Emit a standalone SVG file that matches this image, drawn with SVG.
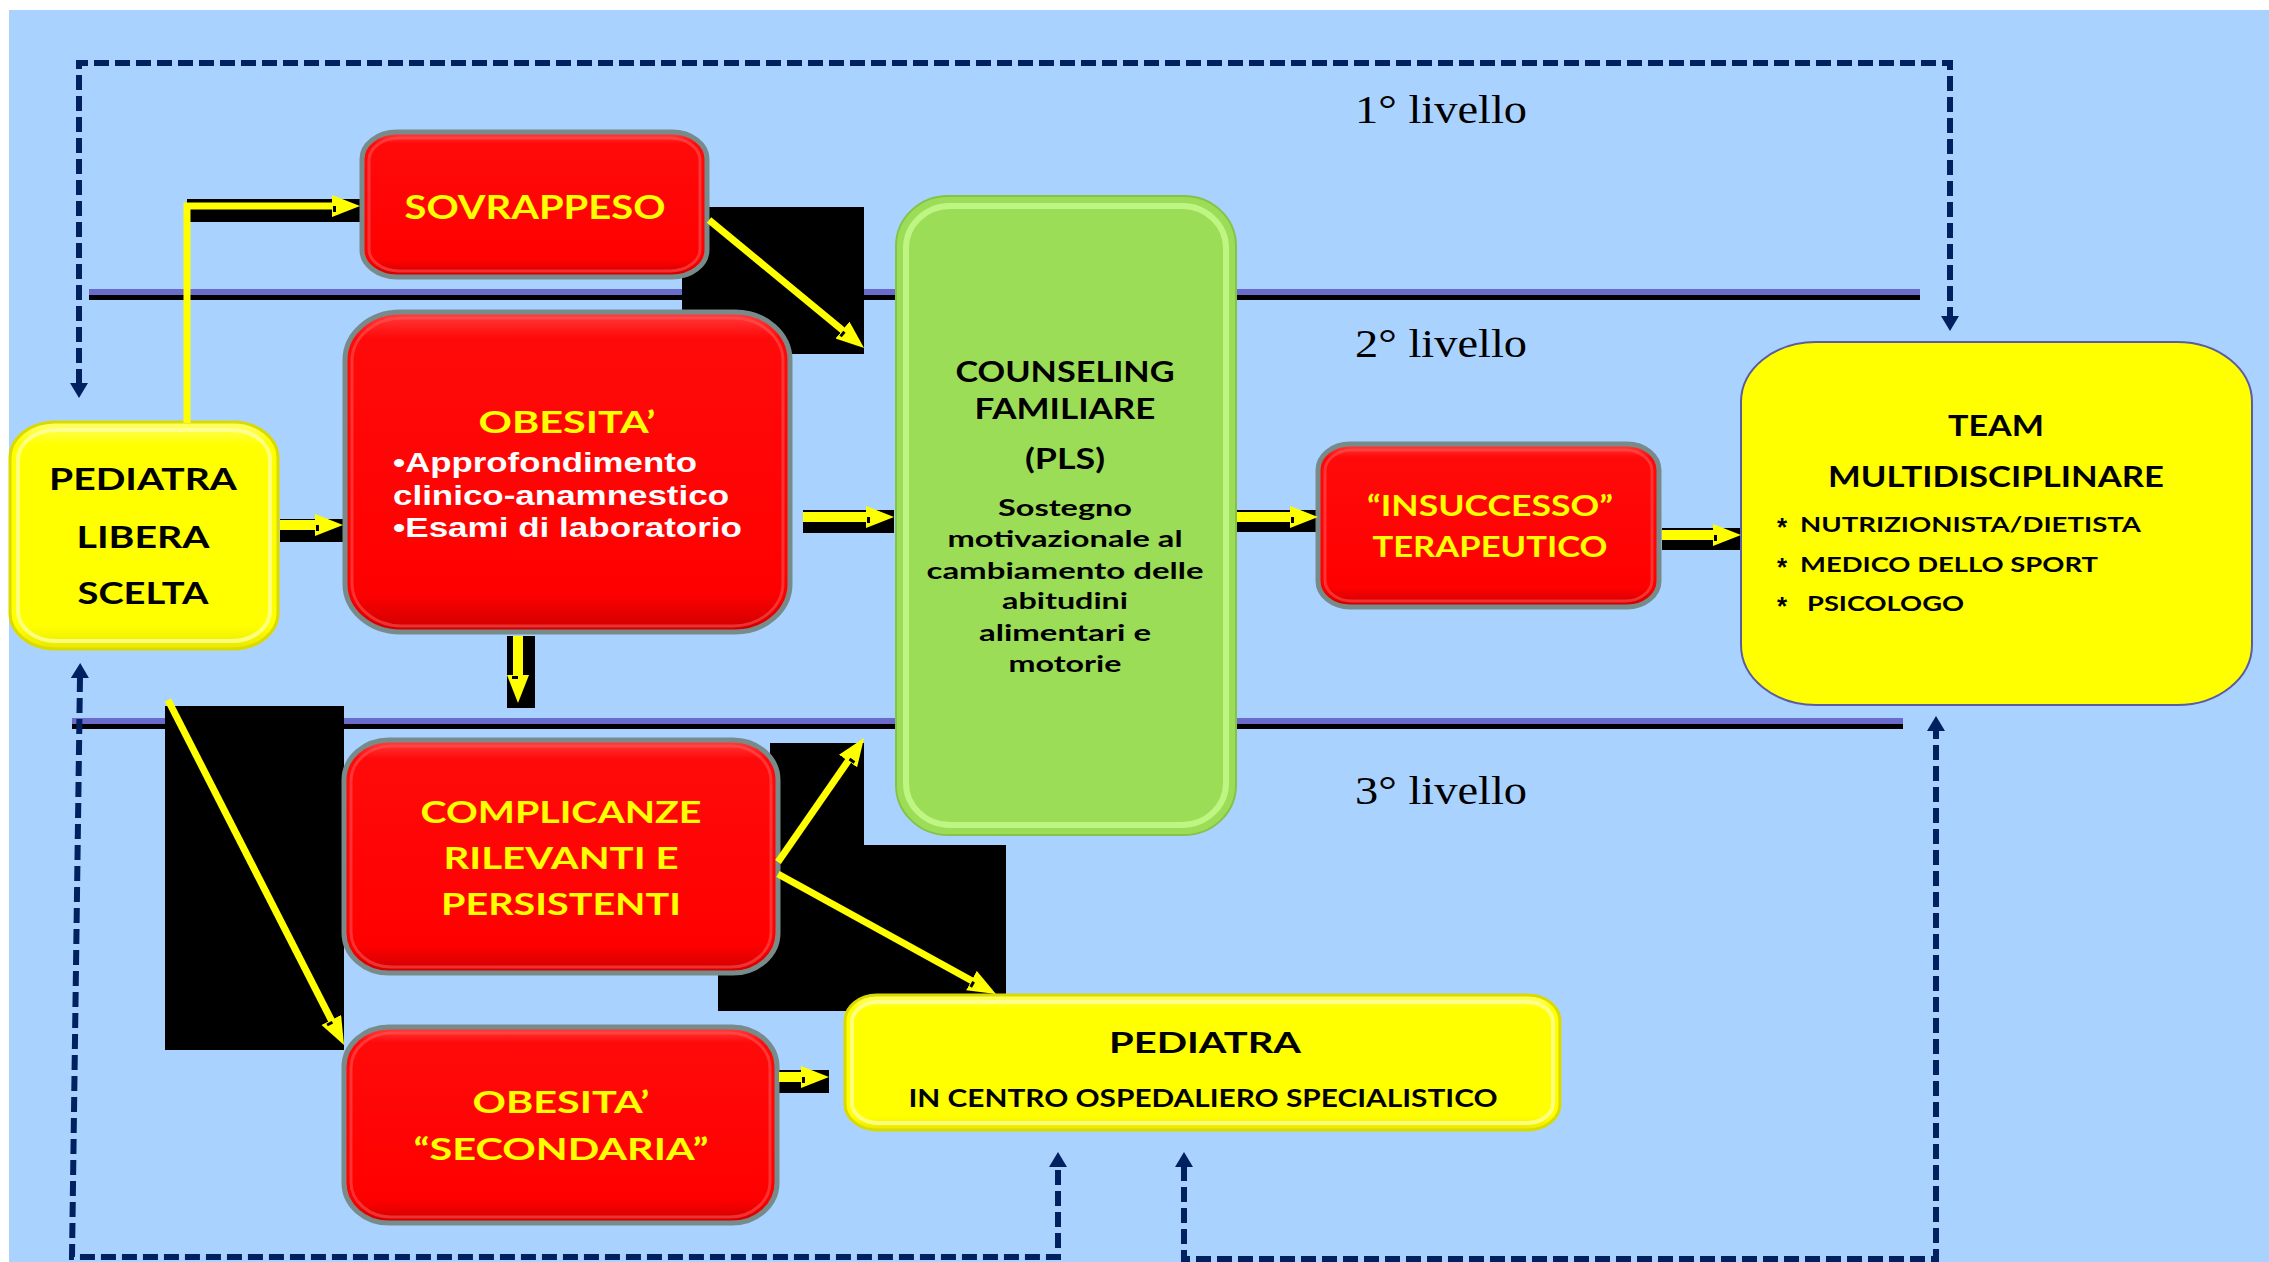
<svg xmlns="http://www.w3.org/2000/svg" width="2269" height="1262" viewBox="0 0 2269 1262">
<style>
.b{font-family:Lato,"Open Sans","DejaVu Sans",sans-serif;font-weight:700;text-anchor:middle}
.bl{font-family:Lato,"Open Sans","DejaVu Sans",sans-serif;font-weight:700}
.ast{font-family:"Liberation Sans",Arial,sans-serif;font-weight:700;font-size:26px;fill:#000}
.k{fill:#000}
.y{fill:#FFFF00}
.w{font-family:"Liberation Sans",Arial,sans-serif;font-weight:700;fill:#fff;font-size:28px}
.lv{font-family:"Liberation Serif","Times New Roman",serif;font-size:39px;fill:#000}
.red{fill:url(#rg);stroke:#788B8B;stroke-width:5}
.redhl{fill:none;stroke:#FF5A5A;stroke-width:3;opacity:.55}
.yel{fill:url(#yg);stroke:#DADA00;stroke-width:3}
.yelhl{fill:none;stroke:#FFFFA8;stroke-width:4;opacity:.75}
.grn{fill:#9CDD57;stroke:#86C24A;stroke-width:2}
.grnhl{fill:none;stroke:#CFFF96;stroke-width:6;opacity:.7}
.team{fill:#FFFF00;stroke:#5C5CA0;stroke-width:2}
.sh{fill:#000}
.ya{stroke:#FFFF00;fill:none;marker-end:url(#yah)}
.dash{fill:none;stroke:#002060;stroke-width:6;stroke-dasharray:15 6;marker-start:url(#nah);marker-end:url(#nah)}
</style>
<defs>
<linearGradient id="rg" x1="0" y1="0" x2="0" y2="1">
<stop offset="0" stop-color="#FF4040"/>
<stop offset="0.08" stop-color="#FF0A0A"/>
<stop offset="0.88" stop-color="#FF0000"/>
<stop offset="1" stop-color="#CC0000"/>
</linearGradient>
<linearGradient id="yg" x1="0" y1="0" x2="0" y2="1">
<stop offset="0" stop-color="#FFFF70"/>
<stop offset="0.1" stop-color="#FFFF00"/>
<stop offset="0.9" stop-color="#FFFF00"/>
<stop offset="1" stop-color="#E8E800"/>
</linearGradient>
<marker id="yah" markerUnits="userSpaceOnUse" markerWidth="32" markerHeight="24" refX="2" refY="11" orient="auto">
<path d="M0,0 L28,11 L0,22 Z" fill="#FFFF00"/>
<rect x="1" y="11" width="3" height="6" fill="#000"/>
</marker>
<marker id="nah" markerUnits="userSpaceOnUse" markerWidth="18" markerHeight="20" refX="1" refY="9" orient="auto-start-reverse">
<path d="M0,0 L15,9 L0,18 Z" fill="#002060"/>
</marker>
</defs>

<rect x="0" y="0" width="2269" height="1262" fill="#FFFFFF"/>
<rect x="9" y="10" width="2260" height="1252" fill="#A9D3FE"/>

<g id="levels">
<rect x="89" y="289" width="1831" height="6" fill="#6B6BCC"/>
<rect x="89" y="295" width="1831" height="5" fill="#000"/>
<rect x="72" y="718" width="1831" height="6" fill="#6B6BCC"/>
<rect x="72" y="724" width="1831" height="5" fill="#000"/>
<text class="lv" x="1355" y="123" textLength="172" lengthAdjust="spacingAndGlyphs">1° livello</text>
<text class="lv" x="1355" y="357" textLength="172" lengthAdjust="spacingAndGlyphs">2° livello</text>
<text class="lv" x="1355" y="804" textLength="172" lengthAdjust="spacingAndGlyphs">3° livello</text>
</g>

<g id="connector-shadows">
<rect class="sh" x="187" y="199" width="173" height="23"/>
<rect class="sh" x="682" y="207" width="182" height="147"/>
<rect class="sh" x="280" y="519" width="63" height="23"/>
<rect class="sh" x="803" y="510" width="91" height="23"/>
<rect class="sh" x="507" y="636" width="28" height="72"/>
<rect class="sh" x="1237" y="510" width="81" height="22"/>
<rect class="sh" x="1662" y="528" width="79" height="22"/>
<rect class="sh" x="165" y="706" width="179" height="344"/>
<rect class="sh" x="770" y="743" width="94" height="102"/>
<rect class="sh" x="718" y="845" width="288" height="166"/>
<rect class="sh" x="779" y="1070" width="50" height="23"/>
</g>

<g id="dashed-connectors">
<path class="dash" d="M79,384 L79,63 L1950,63 L1950,317"/>
<path class="dash" d="M80,677 L72,1257 L1058,1257 L1058,1166"/>
<path class="dash" d="M1184,1166 L1184,1259 L1936,1259 L1936,730"/>
</g>

<g id="node-pediatra-libera">
<rect class="yel" x="10" y="422" width="268" height="227" rx="45" ry="36"/>
<rect class="yelhl" x="18" y="430" width="252" height="211" rx="38" ry="30"/>
<text class="b k" font-size="31" x="143" y="490" textLength="188" lengthAdjust="spacingAndGlyphs">PEDIATRA</text>
<text class="b k" font-size="31" x="143" y="548" textLength="133" lengthAdjust="spacingAndGlyphs">LIBERA</text>
<text class="b k" font-size="31" x="143" y="604" textLength="131" lengthAdjust="spacingAndGlyphs">SCELTA</text>
</g>

<g id="node-sovrappeso">
<rect class="red" x="362" y="132" width="345" height="145" rx="35" ry="27"/>
<rect class="redhl" x="369" y="138" width="331" height="133" rx="30" ry="22"/>
<text class="b y" font-size="32" x="535" y="219" textLength="261" lengthAdjust="spacingAndGlyphs">SOVRAPPESO</text>
</g>

<g id="node-obesita">
<rect class="red" x="345" y="312" width="445" height="320" rx="55" ry="48"/>
<rect class="redhl" x="352" y="318" width="431" height="308" rx="50" ry="43"/>
<text class="b y" font-size="30" x="567" y="433" textLength="177" lengthAdjust="spacingAndGlyphs">OBESITA’</text>
<text class="w" x="393" y="472" textLength="304" lengthAdjust="spacingAndGlyphs">•Approfondimento</text>
<text class="w" x="393" y="505" textLength="336" lengthAdjust="spacingAndGlyphs">clinico-anamnestico</text>
<text class="w" x="393" y="537" textLength="349" lengthAdjust="spacingAndGlyphs">•Esami di laboratorio</text>
</g>

<g id="node-counseling">
<rect class="grn" x="896" y="196" width="340" height="639" rx="52" ry="50"/>
<rect class="grnhl" x="906" y="206" width="320" height="619" rx="44" ry="42"/>
<text class="b k" font-size="28" x="1065" y="382" textLength="219" lengthAdjust="spacingAndGlyphs">COUNSELING</text>
<text class="b k" font-size="28" x="1065" y="419" textLength="181" lengthAdjust="spacingAndGlyphs">FAMILIARE</text>
<text class="b k" font-size="28" x="1065" y="469" textLength="80" lengthAdjust="spacingAndGlyphs">(PLS)</text>
<text class="b k" font-size="22" x="1065" y="516" textLength="134" lengthAdjust="spacingAndGlyphs">Sostegno</text>
<text class="b k" font-size="22" x="1065" y="547" textLength="235" lengthAdjust="spacingAndGlyphs">motivazionale al</text>
<text class="b k" font-size="22" x="1065" y="579" textLength="277" lengthAdjust="spacingAndGlyphs">cambiamento delle</text>
<text class="b k" font-size="22" x="1065" y="609" textLength="126" lengthAdjust="spacingAndGlyphs">abitudini</text>
<text class="b k" font-size="22" x="1065" y="641" textLength="172" lengthAdjust="spacingAndGlyphs">alimentari e</text>
<text class="b k" font-size="22" x="1065" y="672" textLength="113" lengthAdjust="spacingAndGlyphs">motorie</text>
</g>

<g id="node-insuccesso">
<rect class="red" x="1318" y="444" width="341" height="163" rx="32" ry="26"/>
<rect class="redhl" x="1325" y="450" width="327" height="151" rx="27" ry="21"/>
<text class="b y" font-size="28" x="1490" y="516" textLength="246" lengthAdjust="spacingAndGlyphs">“INSUCCESSO”</text>
<text class="b y" font-size="28" x="1490" y="557" textLength="235" lengthAdjust="spacingAndGlyphs">TERAPEUTICO</text>
</g>

<g id="node-team">
<rect class="team" x="1741" y="342" width="511" height="363" rx="75" ry="60"/>
<text class="b k" font-size="28" x="1996" y="436" textLength="96" lengthAdjust="spacingAndGlyphs">TEAM</text>
<text class="b k" font-size="28" x="1996" y="487" textLength="336" lengthAdjust="spacingAndGlyphs">MULTIDISCIPLINARE</text>
<text class="ast" x="1777" y="536">*</text>
<text class="bl k" font-size="21" x="1800" y="532" textLength="341" lengthAdjust="spacingAndGlyphs">NUTRIZIONISTA/DIETISTA</text>
<text class="ast" x="1777" y="576">*</text>
<text class="bl k" font-size="21" x="1800" y="572" textLength="298" lengthAdjust="spacingAndGlyphs">MEDICO DELLO SPORT</text>
<text class="ast" x="1777" y="615">*</text>
<text class="bl k" font-size="21" x="1807" y="611" textLength="157" lengthAdjust="spacingAndGlyphs">PSICOLOGO</text>
</g>

<g id="node-complicanze">
<rect class="red" x="344" y="740" width="434" height="233" rx="45" ry="40"/>
<rect class="redhl" x="351" y="746" width="420" height="221" rx="40" ry="35"/>
<text class="b y" font-size="31" x="561" y="823" textLength="281" lengthAdjust="spacingAndGlyphs">COMPLICANZE</text>
<text class="b y" font-size="31" x="561" y="869" textLength="235" lengthAdjust="spacingAndGlyphs">RILEVANTI E</text>
<text class="b y" font-size="31" x="561" y="915" textLength="240" lengthAdjust="spacingAndGlyphs">PERSISTENTI</text>
</g>

<g id="node-obesita-secondaria">
<rect class="red" x="344" y="1027" width="433" height="196" rx="45" ry="40"/>
<rect class="redhl" x="351" y="1033" width="419" height="184" rx="40" ry="35"/>
<text class="b y" font-size="30" x="561" y="1113" textLength="177" lengthAdjust="spacingAndGlyphs">OBESITA’</text>
<text class="b y" font-size="30" x="561" y="1160" textLength="295" lengthAdjust="spacingAndGlyphs">“SECONDARIA”</text>
</g>

<g id="node-pediatra-centro">
<rect class="yel" x="845" y="995" width="715" height="135" rx="32" ry="26"/>
<rect class="yelhl" x="852" y="1002" width="701" height="121" rx="26" ry="20"/>
<text class="b k" font-size="29" x="1205" y="1053" textLength="192" lengthAdjust="spacingAndGlyphs">PEDIATRA</text>
<text class="b k" font-size="24" x="1203" y="1107" textLength="589" lengthAdjust="spacingAndGlyphs">IN CENTRO OSPEDALIERO SPECIALISTICO</text>
</g>

<g id="connectors">
<path class="ya" stroke-width="7" d="M187,423 L187,206 L334,206"/>
<path class="ya" stroke-width="7" d="M709,220 L844,331.4"/>
<path class="ya" stroke-width="10" d="M280,525 L317,525"/>
<path class="ya" stroke-width="10" d="M803,517 L868,517"/>
<path class="ya" stroke-width="10" d="M518,636 L518,677"/>
<path class="ya" stroke-width="10" d="M1237,517 L1292,517"/>
<path class="ya" stroke-width="10" d="M1662,535 L1715,535"/>
<path class="ya" stroke-width="7" d="M168,700 L332.2,1021.8"/>
<path class="ya" stroke-width="7" d="M778,862 L849.2,759.4"/>
<path class="ya" stroke-width="7" d="M778,874 L973.2,981.5"/>
<path class="ya" stroke-width="10" d="M779,1077 L803,1077"/>
</g>
</svg>
